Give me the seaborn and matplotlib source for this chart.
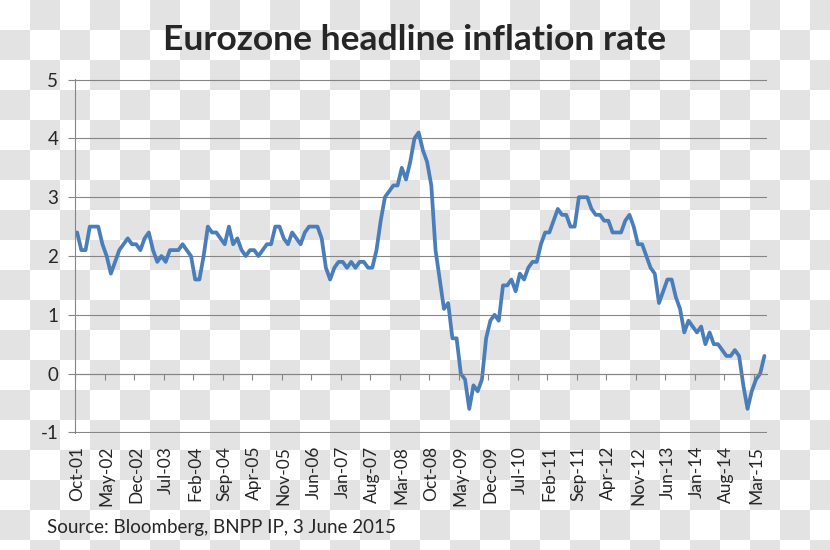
import numpy as np
import pandas as pd
import matplotlib
matplotlib.use('Agg')
import matplotlib.pyplot as plt
import seaborn as sns

# monthly headline HICP, Oct-01 .. May-15 (% y/y)
inflation = [
    2.4, 2.1, 2.1,
    2.5, 2.5, 2.5, 2.2, 2.0, 1.7, 1.9, 2.1, 2.2, 2.3, 2.2, 2.2,
    2.1, 2.3, 2.4, 2.1, 1.9, 2.0, 1.9, 2.1, 2.1, 2.1, 2.2, 2.1,
    2.0, 1.6, 1.6, 2.0, 2.5, 2.4, 2.4, 2.3, 2.2, 2.5, 2.2, 2.3,
    2.1, 2.0, 2.1, 2.1, 2.0, 2.1, 2.2, 2.2, 2.5, 2.5, 2.3, 2.2,
    2.4, 2.3, 2.2, 2.4, 2.5, 2.5, 2.5, 2.3, 1.8, 1.6, 1.8, 1.9,
    1.9, 1.8, 1.9, 1.8, 1.9, 1.9, 1.8, 1.8, 2.1, 2.6, 3.0, 3.1,
    3.2, 3.2, 3.5, 3.3, 3.6, 4.0, 4.1, 3.8, 3.6, 3.2, 2.1, 1.6,
    1.1, 1.2, 0.6, 0.6, 0.0, -0.1, -0.6, -0.2, -0.3, -0.1, 0.6, 0.9,
    1.0, 0.9, 1.5, 1.5, 1.6, 1.4, 1.7, 1.6, 1.8, 1.9, 1.9, 2.2,
    2.4, 2.4, 2.6, 2.8, 2.7, 2.7, 2.5, 2.5, 3.0, 3.0, 3.0, 2.8,
    2.7, 2.7, 2.6, 2.6, 2.4, 2.4, 2.4, 2.6, 2.7, 2.5, 2.2, 2.2,
    2.0, 1.8, 1.7, 1.2, 1.4, 1.6, 1.6, 1.3, 1.1, 0.7, 0.9, 0.8,
    0.7, 0.8, 0.5, 0.7, 0.5, 0.5, 0.4, 0.3, 0.3, 0.4, 0.3, -0.2,
    -0.6, -0.3, -0.1, 0.0, 0.3,
]
tick_labels = ['Oct-01', 'May-02', 'Dec-02', 'Jul-03', 'Feb-04', 'Sep-04',
               'Apr-05', 'Nov-05', 'Jun-06', 'Jan-07', 'Aug-07', 'Mar-08',
               'Oct-08', 'May-09', 'Dec-09', 'Jul-10', 'Feb-11', 'Sep-11',
               'Apr-12', 'Nov-12', 'Jun-13', 'Jan-14', 'Aug-14', 'Mar-15']
tick_step = 7
y_ticks = [-1, 0, 1, 2, 3, 4, 5]

sns.set_style('white')
plt.rcParams['font.family'] = ['Lato', 'DejaVu Sans']

df = pd.DataFrame({'month': np.arange(len(inflation)), 'rate': inflation})
grey = '#868686'

fig = plt.figure(figsize=(8.3, 5.5), dpi=100)

# fake "transparent" checkerboard behind everything
yy, xx = np.mgrid[0:550, 0:830]
board = np.where(((xx // 30) + (yy // 30)) % 2 == 1, 227, 255).astype(np.uint8)
fig.figimage(np.dstack([board] * 3), xo=0, yo=0, origin='upper', zorder=-10)
fig.patch.set_alpha(0)

ax = fig.add_axes([0.0904, 0.2133, 0.8331, 0.6425])
ax.set_facecolor('none')
sns.lineplot(data=df, x='month', y='rate', ax=ax, color='#4a7ebb', linewidth=2.7)

ax.set_xlim(-0.5, len(inflation) - 0.5)
ax.set_ylim(-1.005, 5.005)
ax.set_yticks(y_ticks)
ax.set_yticklabels([str(v) for v in y_ticks])
ax.yaxis.grid(True, color=grey, linewidth=0.8)
ax.set_xlabel('')
ax.set_ylabel('')

# category axis crosses at zero, labels sit below the plot
ax.spines['bottom'].set_position(('data', 0))
for s in ['top', 'right']:
    ax.spines[s].set_visible(False)
for s in ['left', 'bottom']:
    ax.spines[s].set_color(grey)
    ax.spines[s].set_linewidth(0.8)

major = np.arange(len(tick_labels)) * tick_step
ax.set_xticks(major)
ax.set_xticklabels(tick_labels, rotation=90)
ax.set_xticks(major - 0.5, minor=True)
ax.tick_params(axis='x', which='major', length=0, pad=52, labelsize=12.5)
ax.tick_params(axis='x', which='minor', length=4.5, width=0.8, color=grey,
               direction='out', bottom=True)
ax.tick_params(axis='y', length=5, width=0.8, color=grey, direction='out',
               left=True, pad=7, labelsize=13.5)

fig.text(0.5, 1 - 40 / 550, 'Eurozone headline inflation rate',
         ha='center', va='center', fontsize=25.5, fontweight='bold')
fig.text(47 / 830, 1 - 528 / 550, 'Source: Bloomberg, BNPP IP, 3 June 2015',
         ha='left', va='center', fontsize=13.5)

fig.savefig('out.png', dpi=100)
